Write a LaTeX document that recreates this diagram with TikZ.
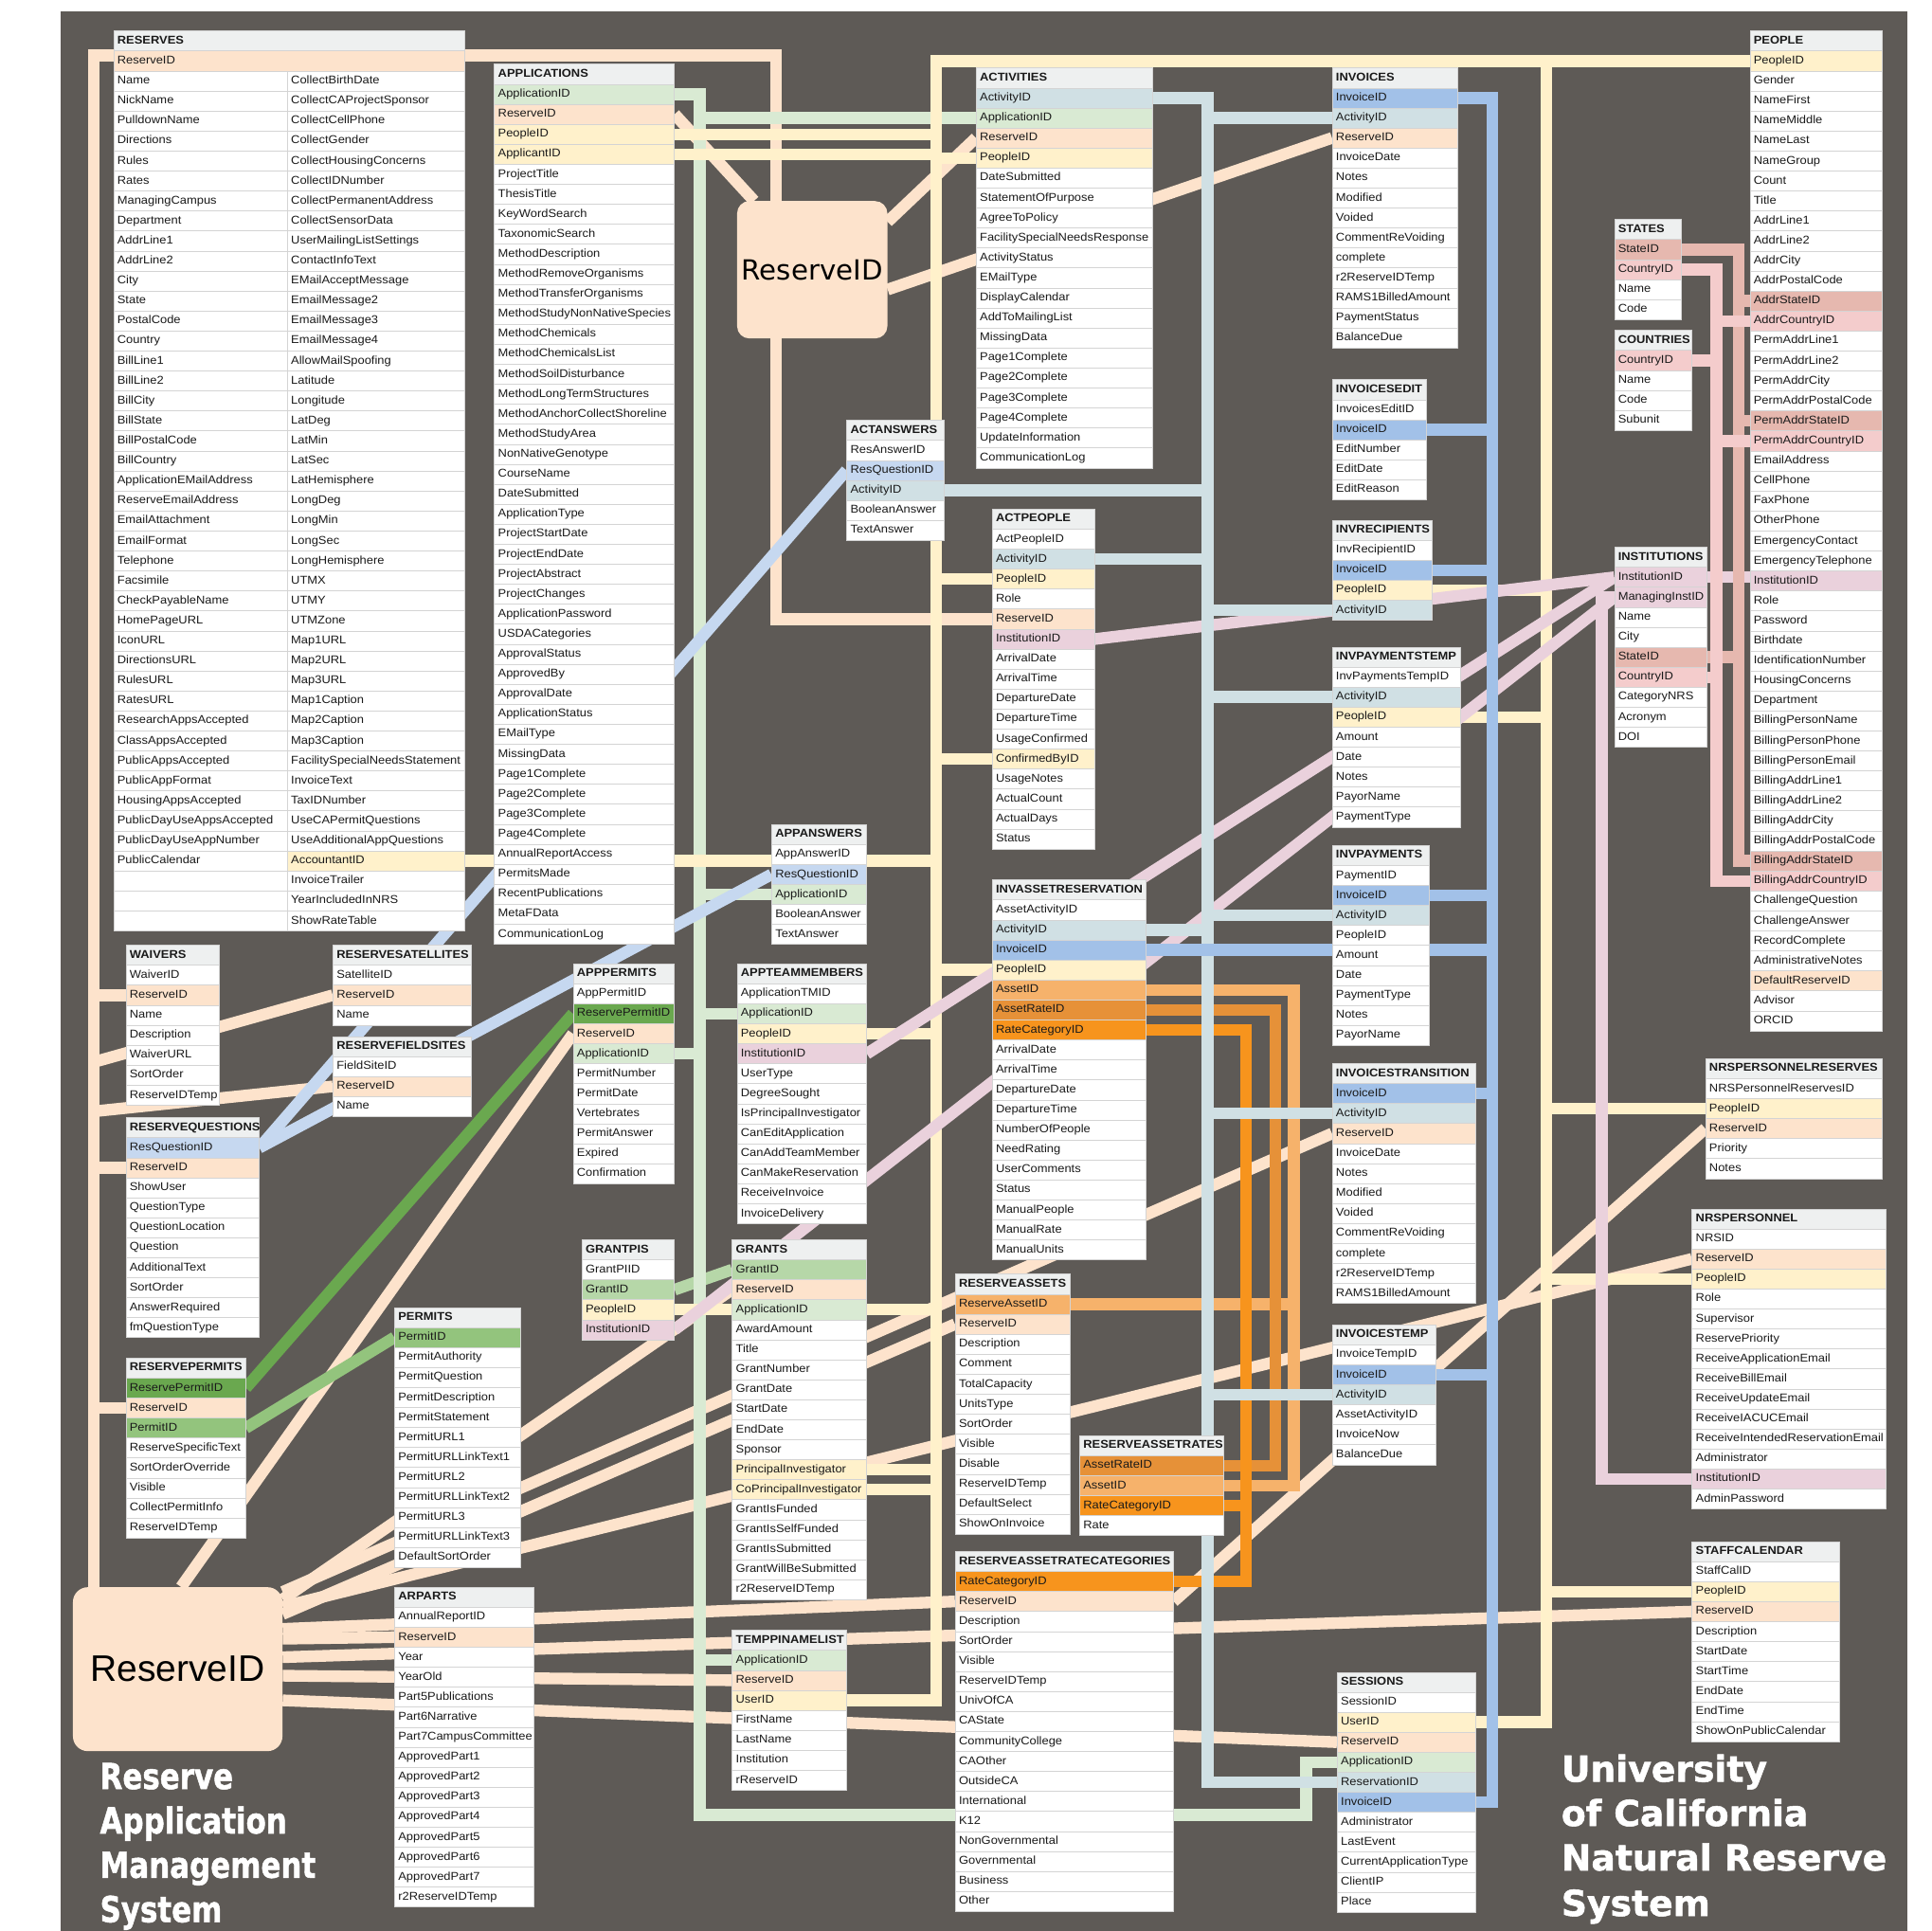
\documentclass[tikz,border=0pt]{standalone}
\usepackage{fontspec}
\setmainfont{Liberation Sans}[FakeStretch=1.08]
\newfontfamily\djv{DejaVu Sans}
\newfontfamily\ttlfont{DejaVu Sans}[FakeBold=1.4]
\newfontfamily\lib{Liberation Sans}
\usepackage{graphicx}
\pgfdeclarelayer{back}
\pgfdeclarelayer{bg}
\pgfsetlayers{back,bg,main}
\definecolor{BG}{HTML}{5E5A56}
\definecolor{HdrG}{HTML}{EEF0F0}
\definecolor{SepG}{HTML}{D4D4D4}
\definecolor{TxtC}{HTML}{1A1A1A}
\definecolor{cR}{HTML}{FDE3CC}
\definecolor{cP}{HTML}{FFF1CB}
\definecolor{cA}{HTML}{D9EAD3}
\definecolor{cC}{HTML}{D0E0E4}
\definecolor{cV}{HTML}{A2C1E8}
\definecolor{cQ}{HTML}{C6D8F0}
\definecolor{cM}{HTML}{EAD1DC}
\definecolor{cS}{HTML}{E6B8AF}
\definecolor{cK}{HTML}{F4CCCC}
\definecolor{cO}{HTML}{F6B26B}
\definecolor{cOb}{HTML}{E69138}
\definecolor{cOc}{HTML}{F7941D}
\definecolor{cG}{HTML}{93C47D}
\definecolor{cGb}{HTML}{6AA84F}
\definecolor{cGc}{HTML}{B6D7A8}
\tikzset{
  hdr/.style={draw=SepG,line width=0.5pt,fill=HdrG,inner xsep=3pt,inner ysep=0pt,
    minimum height=16.23pt,text height=7pt,text depth=2.2pt,
    font=\bfseries\fontsize{9.2}{10}\selectfont,text=TxtC,align=left},
  rowst/.style={draw=SepG,line width=0.5pt,inner xsep=3pt,inner ysep=0pt,
    minimum height=16.23pt,text height=7pt,text depth=2.2pt,
    font=\fontsize{9.2}{10}\selectfont,text=TxtC,align=left},
  con/.style={line width=9.5pt},
  bigbox/.style={fill=cR,inner sep=0pt,anchor=north west,text=black},
  ttl/.style={anchor=base west,inner sep=0pt,text=white,font=\ttlfont\bfseries\fontsize{29}{30}\selectfont}
}
\newcommand\RH{16.23}
\newcommand\dbt[6]{%
  \pgfmathsetmacro\dbtw{#5-6}%
  \pgfmathsetmacro\dbty{#4-8.1}%
  \node[hdr,text width=\dbtw pt,anchor=north west] (#1-0) at (#3,\dbty) {#2};%
  \foreach \lab/\col [count=\i] in {#6}{%
    \ifx\lab\col\def\cc{white}\else\let\cc\col\fi
    \node[rowst,fill=\cc,text width=\dbtw pt,anchor=north west] (#1-\i) at (#3,{\dbty+\i*\RH}) {\lab};%
  }%
}
\begin{document}
\begin{tikzpicture}[x=1pt,y=-1pt]
\begin{pgfonlayer}{back}
\fill[white] (0,0) rectangle (1568,1567);
\fill[BG] (49.5,9.5) rectangle (1548,1567);
\end{pgfonlayer}
\useasboundingbox (0,0) rectangle (1568,1567);

% ---------- RESERVES ----------
\node[hdr,text width=279pt,anchor=north west] (RES-0) at (92,24.9) {RESERVES};
\node[rowst,fill=cR,text width=279pt,anchor=north west] (RES-1) at (92,41.13) {ReserveID};
\foreach \lab [count=\i] in {Name,NickName,PulldownName,Directions,Rules,Rates,ManagingCampus,Department,AddrLine1,AddrLine2,City,State,PostalCode,Country,BillLine1,BillLine2,BillCity,BillState,BillPostalCode,BillCountry,ApplicationEMailAddress,ReserveEmailAddress,EmailAttachment,EmailFormat,Telephone,Facsimile,CheckPayableName,HomePageURL,IconURL,DirectionsURL,RulesURL,RatesURL,ResearchAppsAccepted,ClassAppsAccepted,PublicAppsAccepted,PublicAppFormat,HousingAppsAccepted,PublicDayUseAppsAccepted,PublicDayUseAppNumber,PublicCalendar,{},{},{}}{%
  \node[rowst,fill=white,text width=135pt,anchor=north west] (RESa-\i) at (92,{41.13+\i*\RH}) {\lab};}
\foreach \lab/\col [count=\i] in {CollectBirthDate,CollectCAProjectSponsor,CollectCellPhone,CollectGender,CollectHousingConcerns,CollectIDNumber,CollectPermanentAddress,CollectSensorData,UserMailingListSettings,ContactInfoText,EMailAcceptMessage,EmailMessage2,EmailMessage3,EmailMessage4,AllowMailSpoofing,Latitude,Longitude,LatDeg,LatMin,LatSec,LatHemisphere,LongDeg,LongMin,LongSec,LongHemisphere,UTMX,UTMY,UTMZone,Map1URL,Map2URL,Map3URL,Map1Caption,Map2Caption,Map3Caption,FacilitySpecialNeedsStatement,InvoiceText,TaxIDNumber,UseCAPermitQuestions,UseAdditionalAppQuestions,AccountantID/cP,InvoiceTrailer,YearIncludedInNRS,ShowRateTable}{%
  \ifx\lab\col\def\cc{white}\else\let\cc\col\fi
  \node[rowst,fill=\cc,text width=138pt,anchor=north west] (RESb-\i) at (233,{41.13+\i*\RH}) {\lab};}

% ---------- other tables ----------
\dbt{APP}{APPLICATIONS}{401}{60}{146}{ApplicationID/cA,ReserveID/cR,PeopleID/cP,ApplicantID/cP,ProjectTitle,ThesisTitle,KeyWordSearch,TaxonomicSearch,MethodDescription,MethodRemoveOrganisms,MethodTransferOrganisms,MethodStudyNonNativeSpecies,MethodChemicals,MethodChemicalsList,MethodSoilDisturbance,MethodLongTermStructures,MethodAnchorCollectShoreline,MethodStudyArea,NonNativeGenotype,CourseName,DateSubmitted,ApplicationType,ProjectStartDate,ProjectEndDate,ProjectAbstract,ProjectChanges,ApplicationPassword,USDACategories,ApprovalStatus,ApprovedBy,ApprovalDate,ApplicationStatus,EMailType,MissingData,Page1Complete,Page2Complete,Page3Complete,Page4Complete,AnnualReportAccess,PermitsMade,RecentPublications,MetaFData,CommunicationLog}
\dbt{ACT}{ACTIVITIES}{792}{63}{143}{ActivityID/cC,ApplicationID/cA,ReserveID/cR,PeopleID/cP,DateSubmitted,StatementOfPurpose,AgreeToPolicy,FacilitySpecialNeedsResponse,ActivityStatus,EMailType,DisplayCalendar,AddToMailingList,MissingData,Page1Complete,Page2Complete,Page3Complete,Page4Complete,UpdateInformation,CommunicationLog}
\dbt{INV}{INVOICES}{1081}{63}{102}{InvoiceID/cV,ActivityID/cC,ReserveID/cR,InvoiceDate,Notes,Modified,Voided,CommentReVoiding,complete,r2ReserveIDTemp,RAMS1BilledAmount,PaymentStatus,BalanceDue}
\dbt{PEO}{PEOPLE}{1420}{33}{107}{PeopleID/cP,Gender,NameFirst,NameMiddle,NameLast,NameGroup,Count,Title,AddrLine1,AddrLine2,AddrCity,AddrPostalCode,AddrStateID/cS,AddrCountryID/cK,PermAddrLine1,PermAddrLine2,PermAddrCity,PermAddrPostalCode,PermAddrStateID/cS,PermAddrCountryID/cK,EmailAddress,CellPhone,FaxPhone,OtherPhone,EmergencyContact,EmergencyTelephone,InstitutionID/cM,Role,Password,Birthdate,IdentificationNumber,HousingConcerns,Department,BillingPersonName,BillingPersonPhone,BillingPersonEmail,BillingAddrLine1,BillingAddrLine2,BillingAddrCity,BillingAddrPostalCode,BillingAddrStateID/cS,BillingAddrCountryID/cK,ChallengeQuestion,ChallengeAnswer,RecordComplete,AdministrativeNotes,DefaultReserveID/cR,Advisor,ORCID}
\dbt{STA}{STATES}{1310}{186}{54}{StateID/cS,CountryID/cK,Name,Code}
\dbt{CTY}{COUNTRIES}{1310}{276}{63}{CountryID/cK,Name,Code,Subunit}
\dbt{INS}{INSTITUTIONS}{1310}{452}{75}{InstitutionID/cM,ManagingInstID/cM,Name,City,StateID/cS,CountryID/cK,CategoryNRS,Acronym,DOI}
\dbt{IED}{INVOICESEDIT}{1081}{316}{76}{InvoicesEditID,InvoiceID/cV,EditNumber,EditDate,EditReason}
\dbt{IRC}{INVRECIPIENTS}{1081}{430}{81}{InvRecipientID,InvoiceID/cV,PeopleID/cP,ActivityID/cC}
\dbt{IPT}{INVPAYMENTSTEMP}{1081}{533}{104}{InvPaymentsTempID,ActivityID/cC,PeopleID/cP,Amount,Date,Notes,PayorName,PaymentType}
\dbt{IPY}{INVPAYMENTS}{1081}{694}{79}{PaymentID,InvoiceID/cV,ActivityID/cC,PeopleID,Amount,Date,PaymentType,Notes,PayorName}
\dbt{ITR}{INVOICESTRANSITION}{1081}{871}{116}{InvoiceID/cV,ActivityID/cC,ReserveID/cR,InvoiceDate,Notes,Modified,Voided,CommentReVoiding,complete,r2ReserveIDTemp,RAMS1BilledAmount}
\dbt{ITM}{INVOICESTEMP}{1081}{1083}{84}{InvoiceTempID,InvoiceID/cV,ActivityID/cC,AssetActivityID,InvoiceNow,BalanceDue}
\dbt{SES}{SESSIONS}{1085}{1365}{112}{SessionID,UserID/cP,ReserveID/cR,ApplicationID/cA,ReservationID/cC,InvoiceID/cV,Administrator,LastEvent,CurrentApplicationType,ClientIP,Place}
\dbt{NPR}{NRSPERSONNELRESERVES}{1384}{867}{143}{NRSPersonnelReservesID,PeopleID/cP,ReserveID/cR,Priority,Notes}
\dbt{NPE}{NRSPERSONNEL}{1373}{989}{157}{NRSID,ReserveID/cR,PeopleID/cP,Role,Supervisor,ReservePriority,ReceiveApplicationEmail,ReceiveBillEmail,ReceiveUpdateEmail,ReceiveIACUCEmail,ReceiveIntendedReservationEmail,Administrator,InstitutionID/cM,AdminPassword}
\dbt{STC}{STAFFCALENDAR}{1373}{1259}{120}{StaffCalID,PeopleID/cP,ReserveID/cR,Description,StartDate,StartTime,EndDate,EndTime,ShowOnPublicCalendar}
\dbt{AAN}{ACTANSWERS}{687}{349}{79}{ResAnswerID,ResQuestionID/cQ,ActivityID/cC,BooleanAnswer,TextAnswer}
\dbt{APE}{ACTPEOPLE}{805}{421}{83}{ActPeopleID,ActivityID/cC,PeopleID/cP,Role,ReserveID/cR,InstitutionID/cM,ArrivalDate,ArrivalTime,DepartureDate,DepartureTime,UsageConfirmed,ConfirmedByID/cP,UsageNotes,ActualCount,ActualDays,Status}
\dbt{IAR}{INVASSETRESERVATION}{805}{722}{125}{AssetActivityID,ActivityID/cC,InvoiceID/cV,PeopleID/cP,AssetID/cO,AssetRateID/cOb,RateCategoryID/cOc,ArrivalDate,ArrivalTime,DepartureDate,DepartureTime,NumberOfPeople,NeedRating,UserComments,Status,ManualPeople,ManualRate,ManualUnits}
\dbt{PAN}{APPANSWERS}{626}{677}{77}{AppAnswerID,ResQuestionID/cQ,ApplicationID/cA,BooleanAnswer,TextAnswer}
\dbt{APM}{APPPERMITS}{465}{790}{82}{AppPermitID,ReservePermitID/cGb,ReserveID/cR,ApplicationID/cA,PermitNumber,PermitDate,Vertebrates,PermitAnswer,Expired,Confirmation}
\dbt{ATM}{APPTEAMMEMBERS}{598}{790}{105}{ApplicationTMID,ApplicationID/cA,PeopleID/cP,InstitutionID/cM,UserType,DegreeSought,IsPrincipalInvestigator,CanEditApplication,CanAddTeamMember,CanMakeReservation,ReceiveInvoice,InvoiceDelivery}
\dbt{WAI}{WAIVERS}{102}{775}{76}{WaiverID,ReserveID/cR,Name,Description,WaiverURL,SortOrder,ReserveIDTemp}
\dbt{RSA}{RESERVESATELLITES}{270}{775}{112}{SatelliteID,ReserveID/cR,Name}
\dbt{RFS}{RESERVEFIELDSITES}{270}{849}{112}{FieldSiteID,ReserveID/cR,Name}
\dbt{RQU}{RESERVEQUESTIONS}{102}{915}{108}{ResQuestionID/cQ,ReserveID/cR,ShowUser,QuestionType,QuestionLocation,Question,AdditionalText,SortOrder,AnswerRequired,fmQuestionType}
\dbt{RPE}{RESERVEPERMITS}{102}{1110}{97}{ReservePermitID/cGb,ReserveID/cR,PermitID/cG,ReserveSpecificText,SortOrderOverride,Visible,CollectPermitInfo,ReserveIDTemp}
\dbt{PER}{PERMITS}{320}{1069}{102}{PermitID/cG,PermitAuthority,PermitQuestion,PermitDescription,PermitStatement,PermitURL1,PermitURLLinkText1,PermitURL2,PermitURLLinkText2,PermitURL3,PermitURLLinkText3,DefaultSortOrder}
\dbt{ARP}{ARPARTS}{320}{1296}{113}{AnnualReportID,ReserveID/cR,Year,YearOld,Part5Publications,Part6Narrative,Part7CampusCommittee,ApprovedPart1,ApprovedPart2,ApprovedPart3,ApprovedPart4,ApprovedPart5,ApprovedPart6,ApprovedPart7,r2ReserveIDTemp}
\dbt{GPI}{GRANTPIS}{472}{1014}{75}{GrantPIID,GrantID/cGc,PeopleID/cP,InstitutionID/cM}
\dbt{GRA}{GRANTS}{594}{1014}{109}{GrantID/cGc,ReserveID/cR,ApplicationID/cA,AwardAmount,Title,GrantNumber,GrantDate,StartDate,EndDate,Sponsor,PrincipalInvestigator/cP,CoPrincipalInvestigator/cP,GrantIsFunded,GrantIsSelfFunded,GrantIsSubmitted,GrantWillBeSubmitted,r2ReserveIDTemp}
\dbt{TPN}{TEMPPINAMELIST}{594}{1331}{93}{ApplicationID/cA,ReserveID/cR,UserID/cP,FirstName,LastName,Institution,rReserveID}
\dbt{RAS}{RESERVEASSETS}{775}{1042}{93}{ReserveAssetID/cO,ReserveID/cR,Description,Comment,TotalCapacity,UnitsType,SortOrder,Visible,Disable,ReserveIDTemp,DefaultSelect,ShowOnInvoice}
\dbt{RAR}{RESERVEASSETRATES}{876}{1173}{117}{AssetRateID/cOb,AssetID/cO,RateCategoryID/cOc,Rate}
\dbt{RRC}{RESERVEASSETRATECATEGORIES}{775}{1267}{177}{RateCategoryID/cOc,ReserveID/cR,Description,SortOrder,Visible,ReserveIDTemp,UnivOfCA,CAState,CommunityCollege,CAOther,OutsideCA,International,K12,NonGovernmental,Governmental,Business,Other}

% ---------- big ReserveID boxes ----------
\node[bigbox,rounded corners=10pt,minimum width=122pt,minimum height=111.5pt,font=\djv\fontsize{22.5}{24}\selectfont] (bigT) at (598,163) {ReserveID};
\node[bigbox,rounded corners=12pt,minimum width=170pt,minimum height=133pt,font=\lib\fontsize{30}{32}\selectfont] (bigB) at (59,1288) {ReserveID};

% ---------- titles ----------
\node[ttl] (tl1) at (81,1452) {\scalebox{0.82}[1]{Reserve}};
\node[ttl] (tl2) at (81,1488) {\scalebox{0.82}[1]{Application}};
\node[ttl] (tl3) at (81,1524) {\scalebox{0.82}[1]{Management}};
\node[ttl] (tl4) at (81,1560) {\scalebox{0.82}[1]{System}};
\node[ttl] (tr1) at (1267,1446) {University};
\node[ttl] (tr2) at (1267,1482) {of California};
\node[ttl] (tr3) at (1267,1518) {Natural Reserve};
\node[ttl] (tr4) at (1267,1555) {System};

% ---------- trunk positions ----------
\coordinate (xRL) at (76,0);
\coordinate (xRT) at (630,0);
\coordinate (resY) at (0,45);
\coordinate (xA) at (568,0);
\coordinate (xP) at (760,0);
\coordinate (xC) at (980,0);
\coordinate (xOc) at (1011,0);
\coordinate (xOb) at (1035,0);
\coordinate (xO) at (1050,0);
\coordinate (xV) at (1211,0);
\coordinate (xP2) at (1255,0);
\coordinate (xM) at (1300,0);
\coordinate (xK) at (1393,0);
\coordinate (xS) at (1411,0);
\coordinate (gBot) at (1060,1473);
\coordinate (rsaSrc) at (76,862);
\coordinate (rfsSrc) at (76,902);

\begin{pgfonlayer}{bg}
% peach
\draw[con,cR] (bigB.north -| xRL) -- (xRL |- resY) -- (xRT |- resY) -- (xRT |- APE-5) -- (APE-5.west);
\draw[con,cR] (xRL |- WAI-2) -- (WAI-2.west);
\draw[con,cR] (xRL |- RQU-2) -- (RQU-2.west);
\draw[con,cR] (xRL |- RPE-2) -- (RPE-2.west);
\draw[con,cR] (rsaSrc) -- (RSA-2.west);
\draw[con,cR] (rfsSrc) -- (RFS-2.west);
\draw[con,cR] (APP-2.east) -- ([xshift=14pt]bigT.north west);
\draw[con,cR] ([yshift=-17pt]bigT.north east) -- (ACT-3.west);
\draw[con,cR] ([yshift=-72pt]bigT.north east) -- (INV-3.west);
\draw[con,cR] ([xshift=88pt]bigB.north west) -- (APM-3.west);
\draw[con,cR] ([yshift=-4pt]bigB.north east) -- (ITR-3.west);
\draw[con,cR] ([yshift=-10pt]bigB.north east) -- (GRA-2.west);
\draw[con,cR] ([yshift=-16pt]bigB.north east) -- (NPE-2.west);
\draw[con,cR] ([yshift=-22pt]bigB.north east) -- (RAS-2.west);
\draw[con,cR] ([yshift=-34pt]bigB.north east) -- (RRC-2.west);
\draw[con,cR] ([yshift=-42pt]bigB.north east) -- (ARP-2.west);
\draw[con,cR] ([yshift=-57pt]bigB.north east) -- (STC-3.west);
\draw[con,cR] ([yshift=-72pt]bigB.north east) -- (TPN-2.west);
\draw[con,cR] ([yshift=-92pt]bigB.north east) -- (SES-3.west);
\draw[con,cR] (RRC-2.east) -- (NPR-3.west);
% orange
\draw[con,cO] (IAR-5.east) -- (xO |- IAR-5) -- (xO |- RAR-2) -- (RAR-2.east);
\draw[con,cO] (RAS-1.east) -- (xO |- RAS-1);
\draw[con,cOb] (IAR-6.east) -- (xOb |- IAR-6) -- (xOb |- RAR-1) -- (RAR-1.east);
\draw[con,cOc] (IAR-7.east) -- (xOc |- IAR-7) -- (xOc |- RRC-1) -- (RRC-1.east);
\draw[con,cOc] (RAR-3.east) -- (xOc |- RAR-3);
% greens
\draw[con,cGb] (RPE-1.east) -- (APM-2.west);
\draw[con,cG] (RPE-3.east) -- (PER-1.west);
\draw[con,cGc] (GPI-2.east) -- (GRA-1.west);
\draw[con,cA] (APP-1.east) -- (xA |- APP-1) -- (xA |- gBot) -- (gBot) -- (gBot |- SES-4) -- (SES-4.west);
\draw[con,cA] (xA |- ACT-2) -- (ACT-2.west);
\draw[con,cA] (xA |- PAN-3) -- (PAN-3.west);
\draw[con,cA] (APM-4.east) -- (xA |- APM-4);
\draw[con,cA] (xA |- ATM-2) -- (ATM-2.west);
\draw[con,cA] (xA |- GRA-3) -- (GRA-3.west);
\draw[con,cA] (xA |- TPN-1) -- (TPN-1.west);
% light blue
\draw[con,cQ] (RQU-1.east) -- (AAN-2.west);
\draw[con,cQ] (RQU-1.east) -- (PAN-2.west);
% yellow
\draw[con,cP] (TPN-3.east) -- (xP |- TPN-3) -- (xP |- PEO-1) -- (PEO-1.west);
\draw[con,cP] (APP-3.east) -- (xP |- APP-3);
\draw[con,cP] (APP-4.east) -- (xP |- APP-4);
\draw[con,cP] (xP |- ACT-4) -- (ACT-4.west);
\draw[con,cP] (xP |- APE-3) -- (APE-3.west);
\draw[con,cP] (xP |- APE-12) -- (APE-12.west);
\draw[con,cP] (xP |- IAR-4) -- (IAR-4.west);
\draw[con,cP] (ATM-3.east) -- (xP |- ATM-3);
\draw[con,cP] (GPI-3.east) -- (xP |- GPI-3);
\draw[con,cP] (GRA-11.east) -- (xP |- GRA-11);
\draw[con,cP] (GRA-12.east) -- (xP |- GRA-12);
\draw[con,cP] (RESb-40.east) -- (xP |- RESb-40);
\draw[con,cP] (xP2 |- PEO-1) -- (xP2 |- SES-2) -- (SES-2.east);
\draw[con,cP] (IRC-3.east) -- (xP2 |- IRC-3);
\draw[con,cP] (IPT-3.east) -- (xP2 |- IPT-3);
\draw[con,cP] (xP2 |- NPR-2) -- (NPR-2.west);
\draw[con,cP] (xP2 |- NPE-3) -- (NPE-3.west);
\draw[con,cP] (xP2 |- STC-2) -- (STC-2.west);
% mauve
\draw[con,cM] (APE-6.east) -- (INS-1.west);
\draw[con,cM] (ATM-4.east) -- (INS-1.west);
\draw[con,cM] (GPI-4.east) -- (INS-2.west);
\draw[con,cM] (INS-2.west) -- (xM |- INS-2) -- (xM |- NPE-13) -- (NPE-13.west);
\draw[con,cM] (INS-1.east) -- (PEO-27.west |- INS-1);
% states / countries
\draw[con,cS] (STA-1.east) -- (xS |- STA-1) -- (xS |- PEO-41) -- (PEO-41.west);
\draw[con,cS] (xS |- PEO-13) -- (PEO-13.west);
\draw[con,cS] (xS |- PEO-19) -- (PEO-19.west);
\draw[con,cS] (INS-5.east) -- (xS |- INS-5);
\draw[con,cK] (STA-2.east) -- (xK |- STA-2) -- (xK |- PEO-42) -- (PEO-42.west);
\draw[con,cK] (CTY-1.east) -- (xK |- CTY-1);
\draw[con,cK] (xK |- PEO-14) -- (PEO-14.west);
\draw[con,cK] (xK |- PEO-20) -- (PEO-20.west);
\draw[con,cK] (INS-6.east) -- (xK |- INS-6);
% blue-gray
\draw[con,cC] (ACT-1.east) -- (xC |- ACT-1) -- (xC |- SES-5) -- (SES-5.west);
\draw[con,cC] (xC |- INV-2) -- (INV-2.west);
\draw[con,cC] (AAN-3.east) -- (xC |- AAN-3);
\draw[con,cC] (APE-2.east) -- (xC |- APE-2);
\draw[con,cC] (xC |- IRC-4) -- (IRC-4.west);
\draw[con,cC] (xC |- IPT-2) -- (IPT-2.west);
\draw[con,cC] (IAR-2.east) -- (xC |- IAR-2);
\draw[con,cC] (xC |- IPY-3) -- (IPY-3.west);
\draw[con,cC] (xC |- ITR-2) -- (ITR-2.west);
\draw[con,cC] (xC |- ITM-3) -- (ITM-3.west);
% blue
\draw[con,cV] (INV-1.east) -- (xV |- INV-1) -- (xV |- SES-6) -- (SES-6.east);
\draw[con,cV] (IED-2.east) -- (xV |- IED-2);
\draw[con,cV] (IRC-2.east) -- (xV |- IRC-2);
\draw[con,cV] (IPY-2.east) -- (xV |- IPY-2);
\draw[con,cV] (IAR-3.east) -- (xV |- IAR-3);
\draw[con,cV] (ITR-1.east) -- (xV |- ITR-1);
\draw[con,cV] (ITM-2.east) -- (xV |- ITM-2);
\end{pgfonlayer}
\end{tikzpicture}
\end{document}
